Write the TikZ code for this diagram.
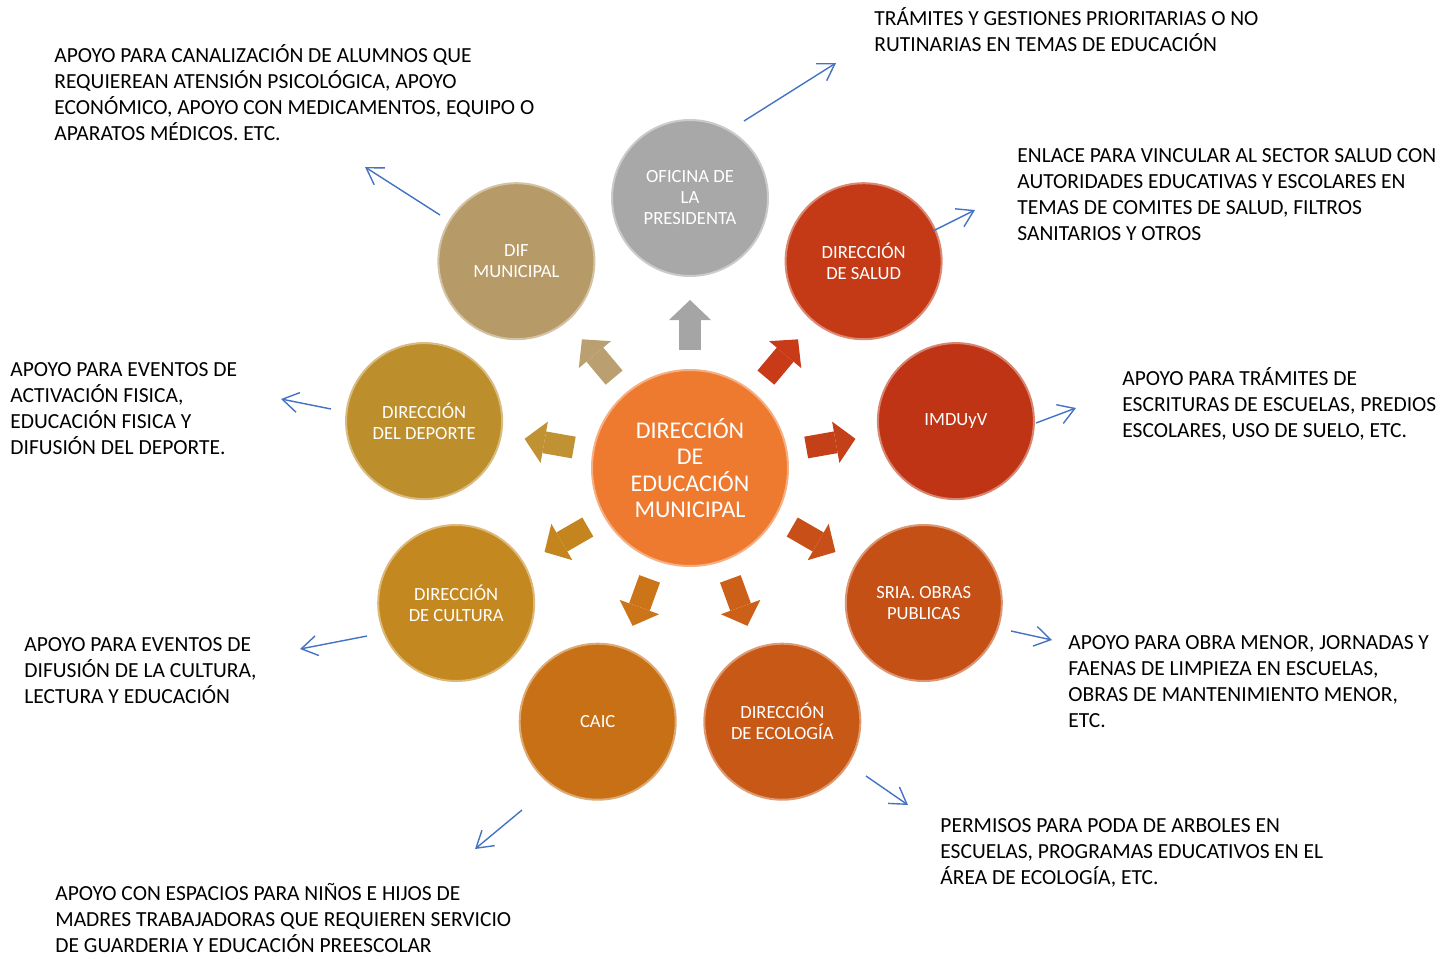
\documentclass[tikz,border=0pt]{standalone}
\usepackage{fontspec}
\setmainfont{Carlito}
\usetikzlibrary{arrows.meta}
\definecolor{cPres}{RGB}{168,168,168}
\definecolor{cSalud}{RGB}{196,58,22}
\definecolor{cImd}{RGB}{190,52,20}
\definecolor{cObras}{RGB}{196,80,22}
\definecolor{cEco}{RGB}{200,88,22}
\definecolor{cCaic}{RGB}{200,112,22}
\definecolor{cCult}{RGB}{196,136,32}
\definecolor{cDep}{RGB}{188,142,44}
\definecolor{cDif}{RGB}{182,154,104}
\definecolor{cEdu}{RGB}{238,122,48}
\definecolor{aPres}{RGB}{165,165,165}
\definecolor{aSalud}{RGB}{200,58,24}
\definecolor{aImd}{RGB}{196,64,24}
\definecolor{aObras}{RGB}{200,80,24}
\definecolor{aEco}{RGB}{204,96,24}
\definecolor{aCaic}{RGB}{204,116,24}
\definecolor{aCult}{RGB}{196,132,30}
\definecolor{aDep}{RGB}{192,146,52}
\definecolor{aDif}{RGB}{186,160,112}
\definecolor{linkblue}{RGB}{68,114,196}
\newcommand{\descfont}{\fontsize{10.75}{13}\selectfont}
\newcommand{\bubfont}{\fontsize{9.3}{10.5}\selectfont}
\newcommand{\edufont}{\fontsize{12}{13.2}\selectfont}
\tikzset{bubble/.style={circle, minimum size=78pt, inner sep=0pt, outer sep=0pt, text=white, align=center, font=\bubfont, fill=#1, draw=#1!60!white, line width=1pt}}
\tikzset{blk/.style={draw=#1, line width=11pt, shorten <=10pt, shorten >=12pt, -{Triangle[length=10pt,width=21pt,line width=0pt]}}}
\tikzstyle{desc} = [anchor=base west, align=left, inner sep=0pt, font=\descfont]
\tikzstyle{link} = [draw=linkblue, line width=0.7pt, -{Straight Barb[length=8pt,width=10pt]}]

\begin{document}
\begin{tikzpicture}[x=0.5pt, y=-0.5pt]
    \useasboundingbox (0,0) rectangle (1455,958);
    \node (edu) [bubble=cEdu, minimum size=98pt, font=\edufont] at (690,468) {DIRECCIÓN\\DE\\EDUCACIÓN\\MUNICIPAL};
    \node (pres) [bubble=cPres] at (690,198) {OFICINA DE\\LA\\PRESIDENTA};
    \node (salud) [bubble=cSalud] at (863.6,261.2) {DIRECCIÓN\\DE SALUD};
    \node (imduyv) [bubble=cImd] at (955.9,421.1) {IMDUyV};
    \node (obras) [bubble=cObras] at (923.8,603) {SRIA. OBRAS\\PUBLICAS};
    \node (eco) [bubble=cEco] at (782.3,721.7) {DIRECCIÓN\\DE ECOLOGÍA};
    \node (caic) [bubble=cCaic] at (597.7,721.7) {CAIC};
    \node (cult) [bubble=cCult] at (456.2,603) {DIRECCIÓN\\DE CULTURA};
    \node (dep) [bubble=cDep] at (424.1,421.1) {DIRECCIÓN\\DEL DEPORTE};
    \node (dif) [bubble=cDif] at (516.4,261.2) {DIF\\MUNICIPAL};

    \draw [blk=aPres] (edu) -- (pres);
    \draw [blk=aSalud] (edu) -- (salud);
    \draw [blk=aImd] (edu) -- (imduyv);
    \draw [blk=aObras] (edu) -- (obras);
    \draw [blk=aEco] (edu) -- (eco);
    \draw [blk=aCaic] (edu) -- (caic);
    \draw [blk=aCult] (edu) -- (cult);
    \draw [blk=aDep] (edu) -- (dep);
    \draw [blk=aDif] (edu) -- (dif);

    \node (tpres) [desc] at (874,51) {TRÁMITES Y GESTIONES PRIORITARIAS O NO\\RUTINARIAS EN TEMAS DE EDUCACIÓN};
    \node (tsalud) [desc] at (1017,240) {ENLACE PARA VINCULAR AL SECTOR SALUD CON\\AUTORIDADES EDUCATIVAS Y ESCOLARES EN\\TEMAS DE COMITES DE SALUD, FILTROS\\SANITARIOS Y OTROS};
    \node (tdif) [desc] at (54,140) {APOYO PARA CANALIZACIÓN DE ALUMNOS QUE\\REQUIEREAN ATENSIÓN PSICOLÓGICA, APOYO\\ECONÓMICO, APOYO CON MEDICAMENTOS, EQUIPO O\\APARATOS MÉDICOS. ETC.};
    \node (tdep) [desc] at (10,454) {APOYO PARA EVENTOS DE\\ACTIVACIÓN FISICA,\\EDUCACIÓN FISICA Y\\DIFUSIÓN DEL DEPORTE.};
    \node (timd) [desc] at (1122,437) {APOYO PARA TRÁMITES DE\\ESCRITURAS DE ESCUELAS, PREDIOS\\ESCOLARES, USO DE SUELO, ETC.};
    \node (tobras) [desc] at (1068,727) {APOYO PARA OBRA MENOR, JORNADAS Y\\FAENAS DE LIMPIEZA EN ESCUELAS,\\OBRAS DE MANTENIMIENTO MENOR,\\ETC.};
    \node (tcult) [desc] at (24,703) {APOYO PARA EVENTOS DE\\DIFUSIÓN DE LA CULTURA,\\LECTURA Y EDUCACIÓN};
    \node (teco) [desc] at (940,884) {PERMISOS PARA PODA DE ARBOLES EN\\ESCUELAS, PROGRAMAS EDUCATIVOS EN EL\\ÁREA DE ECOLOGÍA, ETC.};
    \node (tcaic) [desc] at (55,952) {APOYO CON ESPACIOS PARA NIÑOS E HIJOS DE\\MADRES TRABAJADORAS QUE REQUIEREN SERVICIO\\DE GUARDERIA Y EDUCACIÓN PREESCOLAR};

    \coordinate (a1) at (744,121); \coordinate (b1) at (836,63);
    \coordinate (a2) at (933,231); \coordinate (b2) at (975,210);
    \coordinate (a3) at (440,215); \coordinate (b3) at (365,167);
    \coordinate (a4) at (331,409); \coordinate (b4) at (281,399);
    \coordinate (a5) at (1036,423); \coordinate (b5) at (1076,408);
    \coordinate (a6) at (1011,631); \coordinate (b6) at (1052,640);
    \coordinate (a7) at (367,636); \coordinate (b7) at (300,649);
    \coordinate (a8) at (866,776); \coordinate (b8) at (908,805);
    \coordinate (a9) at (522,810); \coordinate (b9) at (475,849);
    \foreach \i in {1,...,9}
        \draw [link] (a\i) -- (b\i);
\end{tikzpicture}
\end{document}
